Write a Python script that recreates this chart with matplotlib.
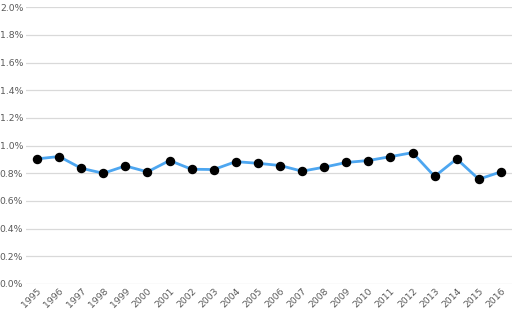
import numpy as np
import matplotlib.pyplot as plt
from matplotlib.ticker import FuncFormatter

years = [str(y) for y in range(1995, 2017)]
rate = [0.904, 0.921, 0.836, 0.800, 0.853, 0.810, 0.892, 0.829, 0.827, 0.884,
        0.872, 0.856, 0.815, 0.844, 0.878, 0.892, 0.920, 0.949, 0.777, 0.904,
        0.757, 0.810]

fig = plt.figure(figsize=(5.15, 3.1), dpi=100)
ax = fig.add_axes([0.0505, 0.0839, 0.9435, 0.893])

x = np.arange(len(years))
ax.plot(x, rate, color='#4da6f0', linewidth=2.0, marker='o', markersize=5.8,
        markerfacecolor='black', markeredgecolor='black', zorder=3)

ax.set_xlim(-0.5, len(years) - 0.5)
ax.set_ylim(0, 2.0)
ax.set_yticks(np.arange(0, 2.01, 0.2))
ax.yaxis.set_major_formatter(FuncFormatter(lambda v, p: f'{v:.1f}%'))
ax.set_xticks(x)
ax.set_xticklabels(years, rotation=45, ha='right', rotation_mode='anchor')

ax.grid(axis='y', color='#d9d9d9', linewidth=0.9)
ax.set_axisbelow(True)
for s in ax.spines.values():
    s.set_visible(False)
ax.tick_params(length=0, labelsize=6.7, colors='#595959', pad=2)

plt.savefig('out.png', dpi=100)
